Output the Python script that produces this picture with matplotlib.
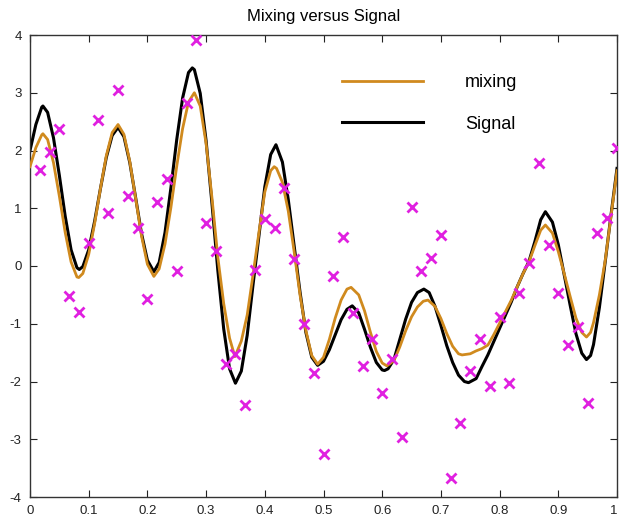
import numpy as np
import matplotlib
matplotlib.use('Agg')
import matplotlib.pyplot as plt

plt.rcParams['font.family'] = ['Liberation Sans', 'DejaVu Sans']
plt.rcParams['axes.unicode_minus'] = False

# Signal (black) curve
signal_x = [0.00, 0.01, 0.02, 0.022, 0.03, 0.04, 0.05, 0.06, 0.07, 0.08, 0.084, 0.09,
            0.10, 0.11, 0.12, 0.13, 0.14, 0.15, 0.16, 0.17, 0.18, 0.19, 0.20, 0.211,
            0.22, 0.23, 0.24, 0.25, 0.26, 0.27, 0.2765, 0.28, 0.29, 0.30, 0.31, 0.32,
            0.33, 0.34, 0.35, 0.36, 0.37, 0.38, 0.39, 0.40, 0.41, 0.419, 0.43, 0.44,
            0.45, 0.46, 0.47, 0.48, 0.49, 0.50, 0.51, 0.52, 0.53, 0.54, 0.549, 0.56,
            0.57, 0.58, 0.59, 0.60, 0.604, 0.61, 0.62, 0.63, 0.64, 0.65, 0.66, 0.671,
            0.68, 0.69, 0.70, 0.71, 0.72, 0.73, 0.74, 0.747, 0.76, 0.77, 0.78, 0.79,
            0.80, 0.81, 0.82, 0.83, 0.84, 0.85, 0.86, 0.87, 0.878, 0.89, 0.90, 0.91,
            0.92, 0.93, 0.94, 0.948, 0.955, 0.96, 0.97, 0.98, 0.99, 1.00]
signal_y = [2.00, 2.45, 2.75, 2.77, 2.66, 2.22, 1.57, 0.86, 0.28, -0.03, -0.06, -0.01,
            0.28, 0.77, 1.34, 1.88, 2.26, 2.40, 2.24, 1.79, 1.18, 0.56, 0.10, -0.10,
            0.06, 0.58, 1.35, 2.19, 2.91, 3.35, 3.43, 3.40, 2.99, 2.17, 1.08, -0.08,
            -1.09, -1.78, -2.03, -1.82, -1.20, -0.32, 0.52, 1.37, 1.93, 2.10, 1.80, 1.15,
            0.35, -0.45, -1.15, -1.58, -1.72, -1.65, -1.45, -1.19, -0.93, -0.75, -0.69, -0.81,
            -1.10, -1.41, -1.67, -1.80, -1.81, -1.78, -1.62, -1.27, -0.92, -0.63, -0.46, -0.40,
            -0.46, -0.70, -1.03, -1.38, -1.67, -1.89, -2.00, -2.02, -1.95, -1.74, -1.54, -1.31,
            -1.08, -0.85, -0.62, -0.36, -0.13, 0.08, 0.42, 0.80, 0.94, 0.76, 0.37, -0.15,
            -0.67, -1.17, -1.51, -1.62, -1.55, -1.36, -0.72, 0.08, 0.90, 1.69]

# mixing (orange) curve
mixing_x = [0.00, 0.01, 0.02, 0.022, 0.03, 0.04, 0.05, 0.06, 0.07, 0.08, 0.083, 0.09,
            0.10, 0.11, 0.12, 0.13, 0.14, 0.15, 0.16, 0.17, 0.18, 0.19, 0.20, 0.211,
            0.22, 0.23, 0.24, 0.25, 0.26, 0.27, 0.28, 0.29, 0.30, 0.31, 0.32, 0.33,
            0.34, 0.349, 0.36, 0.37, 0.38, 0.39, 0.40, 0.41, 0.416, 0.42, 0.43, 0.44,
            0.45, 0.46, 0.47, 0.48, 0.49, 0.50, 0.51, 0.52, 0.53, 0.54, 0.547, 0.56,
            0.57, 0.58, 0.59, 0.60, 0.608, 0.62, 0.63, 0.64, 0.65, 0.66, 0.67, 0.678,
            0.69, 0.70, 0.71, 0.72, 0.73, 0.736, 0.75, 0.76, 0.77, 0.78, 0.79, 0.80,
            0.81, 0.82, 0.83, 0.84, 0.85, 0.86, 0.87, 0.878, 0.89, 0.90, 0.91, 0.92,
            0.93, 0.94, 0.948, 0.955, 0.96, 0.97, 0.98, 0.99, 1.00]
mixing_y = [1.72, 2.05, 2.27, 2.29, 2.19, 1.79, 1.21, 0.58, 0.07, -0.19, -0.20, -0.13,
            0.20, 0.73, 1.34, 1.91, 2.31, 2.45, 2.28, 1.81, 1.17, 0.52, 0.03, -0.18,
            -0.05, 0.38, 1.01, 1.73, 2.38, 2.84, 3.00, 2.77, 2.12, 1.18, 0.15, -0.65,
            -1.25, -1.57, -1.30, -0.85, -0.15, 0.58, 1.28, 1.65, 1.72, 1.69, 1.45, 0.95,
            0.25, -0.50, -1.12, -1.55, -1.70, -1.58, -1.27, -0.90, -0.59, -0.40, -0.37, -0.50,
            -0.78, -1.15, -1.48, -1.68, -1.73, -1.64, -1.40, -1.12, -0.88, -0.71, -0.61, -0.59,
            -0.70, -0.91, -1.17, -1.39, -1.52, -1.54, -1.52, -1.47, -1.43, -1.37, -1.19, -0.99,
            -0.79, -0.59, -0.36, -0.13, 0.07, 0.35, 0.62, 0.71, 0.57, 0.25, -0.13, -0.52,
            -0.90, -1.15, -1.23, -1.15, -0.98, -0.50, 0.10, 0.88, 1.65]

# noisy samples (magenta crosses), 60 evenly spaced samples
sample_x = np.arange(1, 61) / 60
sample_y = [1.66, 1.98, 2.37, -0.52, -0.80, 0.39, 2.53, 0.91, 3.04, 1.21,
            0.66, -0.57, 1.11, 1.51, -0.09, 2.82, 3.91, 0.75, 0.26, -1.70,
            -1.53, -2.40, -0.07, 0.81, 0.65, 1.35, 0.12, -1.01, -1.86, -3.26,
            -0.17, 0.51, -0.82, -1.74, -1.26, -2.20, -1.61, -2.96, 1.02, -0.09,
            0.14, 0.54, -3.67, -2.71, -1.81, -1.26, -2.07, -0.89, -2.03, -0.46,
            0.05, 1.79, 0.36, -0.47, -1.37, -1.05, -2.38, 0.57, 0.83, 2.04]

x_ticks = [0, 0.1, 0.2, 0.3, 0.4, 0.5, 0.6, 0.7, 0.8, 0.9, 1]
x_tick_labels = ['0', '0.1', '0.2', '0.3', '0.4', '0.5', '0.6', '0.7', '0.8', '0.9', '1']
y_ticks = [-4, -3, -2, -1, 0, 1, 2, 3, 4]

fig = plt.figure(figsize=(6.19, 5.23), dpi=100)
ax = fig.add_axes([30 / 619, 26 / 523, 587 / 619, 462 / 523])

sig, = ax.plot(signal_x, signal_y, color='black', lw=2.2, label='Signal', zorder=2)
mix, = ax.plot(mixing_x, mixing_y, color='#D08A1E', lw=2.0, label='mixing', zorder=3)
ax.plot(sample_x, sample_y, 'x', color='#E020E0', ms=7, mew=2, zorder=4)

ax.set_xlim(0, 1)
ax.set_ylim(-4, 4)
ax.set_xticks(x_ticks)
ax.set_xticklabels(x_tick_labels)
ax.set_yticks(y_ticks)
ax.tick_params(direction='in', top=True, right=True, length=5, width=0.8,
               labelsize=9.5, pad=6, colors='#222222')
ax.get_xticklabels()[-1].set_ha('right')
for s in ax.spines.values():
    s.set_color('#333333')
    s.set_linewidth(1.0)

ax.set_title('Mixing versus Signal', fontsize=12, pad=10)

ax.legend(handles=[mix, sig], loc='upper left', bbox_to_anchor=(0.5315, 0.915),
          frameon=False, fontsize=13, handlelength=4.5, handletextpad=2.3,
          labelspacing=1.35, borderpad=0, borderaxespad=0)

fig.savefig('out.png', dpi=100)
